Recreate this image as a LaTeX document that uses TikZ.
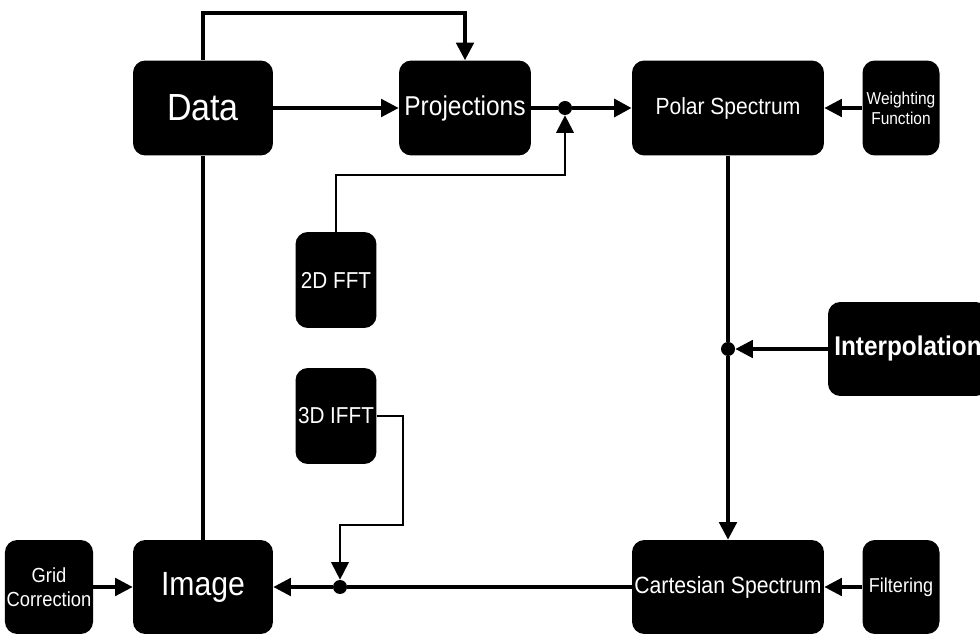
\documentclass[tikz,border=0pt]{standalone}
\usepackage{fontspec}
\setmainfont[FakeStretch=0.9]{Liberation Sans}
\usetikzlibrary{arrows.meta,positioning,calc}
\newcommand{\fsz}[1]{\fontsize{#1}{1.15\dimexpr#1pt\relax}\selectfont}

\begin{document}
\begin{tikzpicture}[x=0.02cm,y=-0.02cm,>={Triangle[length=3.5mm,width=3.5mm]},
  blk/.style={rounded corners=7pt,fill=black,text=white,align=center,inner sep=1pt,minimum height=1.9cm},
  main/.style={line width=1.9pt},
  thinline/.style={line width=1.2pt},
  jdot/.style={circle,fill=black,inner sep=0pt,minimum size=2.8mm}]
\useasboundingbox (0,0) rectangle (980,634);
\clip (0,0) rectangle (980,634);
\node[blk,minimum width=2.8cm,font=\fsz{21.5}] (data) at (203,108) {Data};
\node[blk,minimum width=2.64cm,font=\fsz{15.5}] (proj) at (465,108) {Projections};
\node[blk,minimum width=3.84cm,font=\fsz{13.3}] (polar) at (728,108) {Polar Spectrum};
\node[blk,minimum width=1.54cm,font=\fsz{9.8}] (weight) at (901,108) {Weighting\\Function};
\node[blk,minimum width=1.62cm,minimum height=1.92cm,font=\fsz{13.1}] (fft) at (336,280) {2D FFT};
\node[blk,minimum width=1.62cm,minimum height=1.92cm,font=\fsz{13.1}] (ifft) at (336,416) {3D IFFT};
\node[blk,minimum width=3.2cm,minimum height=1.88cm,font=\fsz{15.4}\bfseries] (interp) at (908,349) {Interpolation};
\node[blk,minimum width=1.76cm,minimum height=1.88cm,font=\fsz{11.6}] (grid) at (49,587) {Grid\\Correction};
\node[blk,minimum width=2.8cm,minimum height=1.88cm,font=\fsz{19.1}] (img) at (203,587) {Image};
\node[blk,minimum width=3.84cm,minimum height=1.88cm,font=\fsz{13.4}] (cart) at (728,587) {Cartesian Spectrum};
\node[blk,minimum width=1.54cm,minimum height=1.88cm,font=\fsz{11.4}] (filt) at (901,587) {Filtering};
\node[jdot] (j1) at (565,108) {};
\node[jdot] (j2) at (728,349) {};
\node[jdot] (j3) at (340,587) {};
\draw[main,->] (data) -- (proj);
\draw[main,->] (data.north) -- ++(0,-47) -| (proj.north);
\draw[main] (proj) -- (j1);
\draw[main,line width=2.5pt,->] (j1) -- (polar);
\draw[thinline,->] (fft.north) -- ++(0,-57) -| (j1);
\draw[main,->] (weight) -- (polar);
\draw[main] (polar) -- (j2);
\draw[main,->] (j2) -- (cart);
\draw[main,->] (interp) -- (j2);
\draw[main,->] (filt) -- (cart);
\draw[main] (cart) -- (j3);
\draw[main,->] (j3) -- (img);
\draw[thinline,->] (ifft.east) -- ++(26,0) -- ++(0,109) -| (j3);
\draw[main,->] (grid) -- (img);
\draw[main] (img) -- (data);
\end{tikzpicture}
\end{document}
